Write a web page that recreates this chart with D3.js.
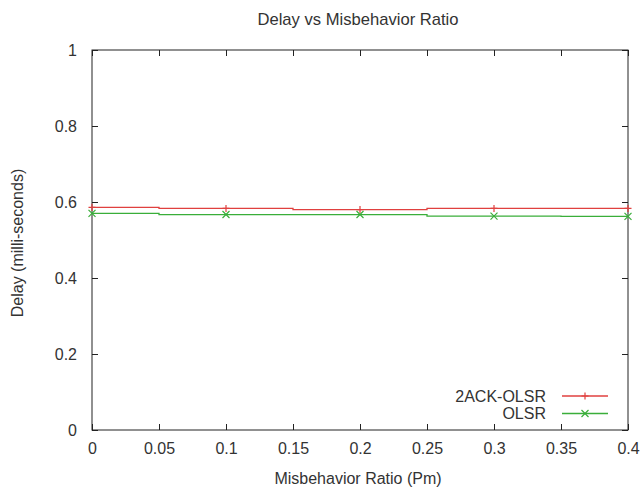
<!DOCTYPE html>
<html>
<head>
<meta charset="utf-8">
<script src="https://cdn.jsdelivr.net/npm/d3@7"></script>
<style>
  body { margin: 0; background: #fff; }
  svg text { font-family: "Liberation Sans", Arial, sans-serif; fill: #333; }
</style>
</head>
<body>
<svg id="chart"></svg>
<script>
// data
const ratios = [0, 0.1, 0.2, 0.3, 0.4];
const ackOlsr = [0.586, 0.583, 0.580, 0.583, 0.583];
const olsr = [0.570, 0.567, 0.567, 0.563, 0.562];
const seriesNames = ['2ACK-OLSR', 'OLSR'];
const xTicks = [0, 0.05, 0.1, 0.15, 0.2, 0.25, 0.3, 0.35, 0.4];
const yTicks = [0, 0.2, 0.4, 0.6, 0.8, 1];

const config = {
  width: 641,
  height: 490,
  margin: {top: 50, right: 13, bottom: 60, left: 92}
};
const colors = ['#e0403f', '#3aae3a'];
const fontSize = '16px';

const width = config.width - config.margin.left - config.margin.right;
const height = config.height - config.margin.top - config.margin.bottom;

const svg = d3.select('#chart')
    .attr('width', config.width)
    .attr('height', config.height);

const chart = svg.append('g')
    .attr('transform', `translate(${config.margin.left},${config.margin.top})`);

const xScale = d3.scaleLinear().domain([0, 0.4]).range([0, width]);
const yScale = d3.scaleLinear().domain([0, 1]).range([height, 0]);

// axes: gnuplot style, inward ticks mirrored on all sides
const fmt = d => String(d);
const xAxis = d3.axisBottom(xScale).tickValues(xTicks).tickFormat(fmt).tickSize(-6).tickSizeOuter(0).tickPadding(13);
const yAxis = d3.axisLeft(yScale).tickValues(yTicks).tickFormat(fmt).tickSize(-6).tickSizeOuter(0).tickPadding(15);
const xAxisTop = d3.axisTop(xScale).tickValues(xTicks).tickFormat('').tickSize(-6).tickSizeOuter(0);
const yAxisRight = d3.axisRight(yScale).tickValues(yTicks).tickFormat('').tickSize(-6).tickSizeOuter(0);

chart.append('g').attr('transform', `translate(0,${height})`).call(xAxis);
chart.append('g').call(yAxis);
chart.append('g').call(xAxisTop);
chart.append('g').attr('transform', `translate(${width},0)`).call(yAxisRight);

chart.selectAll('.domain').remove();
chart.selectAll('.tick line').attr('stroke', '#222');
chart.selectAll('.tick text')
    .style('font-size', fontSize)
    .style('font-family', '"Liberation Sans", Arial, sans-serif')
    .attr('fill', '#333');

chart.append('rect')
    .attr('width', width)
    .attr('height', height)
    .attr('fill', 'none')
    .attr('stroke', '#222')
    .attr('stroke-width', 1);

// series (histeps style)
const seriesData = [ackOlsr, olsr];
const line = d3.line()
    .x((d, i) => xScale(ratios[i]))
    .y(d => yScale(d))
    .curve(d3.curveStep);

const marker = (g, idx, x, y) => {
  const s = 3.5;
  if (idx === 0) {
    g.append('path').attr('d', `M${x - s},${y}H${x + s}M${x},${y - s}V${y + s}`);
  } else {
    g.append('path').attr('d', `M${x - s},${y - s}L${x + s},${y + s}M${x - s},${y + s}L${x + s},${y - s}`);
  }
};

seriesData.forEach((vals, k) => {
  chart.append('path')
      .datum(vals)
      .attr('fill', 'none')
      .attr('stroke', colors[k])
      .attr('stroke-width', 1.3)
      .attr('d', line);
  const mg = chart.append('g').attr('stroke', colors[k]).attr('stroke-width', 1.2).attr('fill', 'none');
  vals.forEach((v, i) => marker(mg, k, xScale(ratios[i]), yScale(v)));
});

// legend
const legend = chart.append('g').attr('transform', `translate(${width - 66},${height - 34})`);
seriesNames.forEach((name, k) => {
  const y = k * 17.5;
  legend.append('text')
      .attr('x', -16)
      .attr('y', y)
      .attr('dy', '0.35em')
      .attr('text-anchor', 'end')
      .style('font-size', fontSize)
      .text(name);
  legend.append('line')
      .attr('x1', 0).attr('x2', 46)
      .attr('y1', y).attr('y2', y)
      .attr('stroke', colors[k])
      .attr('stroke-width', 1.3);
  const mg = legend.append('g').attr('stroke', colors[k]).attr('stroke-width', 1.2);
  marker(mg, k, 23, y);
});

// titles
svg.append('text')
    .attr('x', 358)
    .attr('y', 25)
    .attr('text-anchor', 'middle')
    .style('font-size', '16.6px')
    .text('Delay vs Misbehavior Ratio');

svg.append('text')
    .attr('x', 358)
    .attr('y', 484)
    .attr('text-anchor', 'middle')
    .style('font-size', fontSize)
    .text('Misbehavior Ratio (Pm)');

svg.append('text')
    .attr('transform', `translate(23,243) rotate(-90)`)
    .attr('text-anchor', 'middle')
    .style('font-size', fontSize)
    .text('Delay (milli-seconds)');
</script>
</body>
</html>
